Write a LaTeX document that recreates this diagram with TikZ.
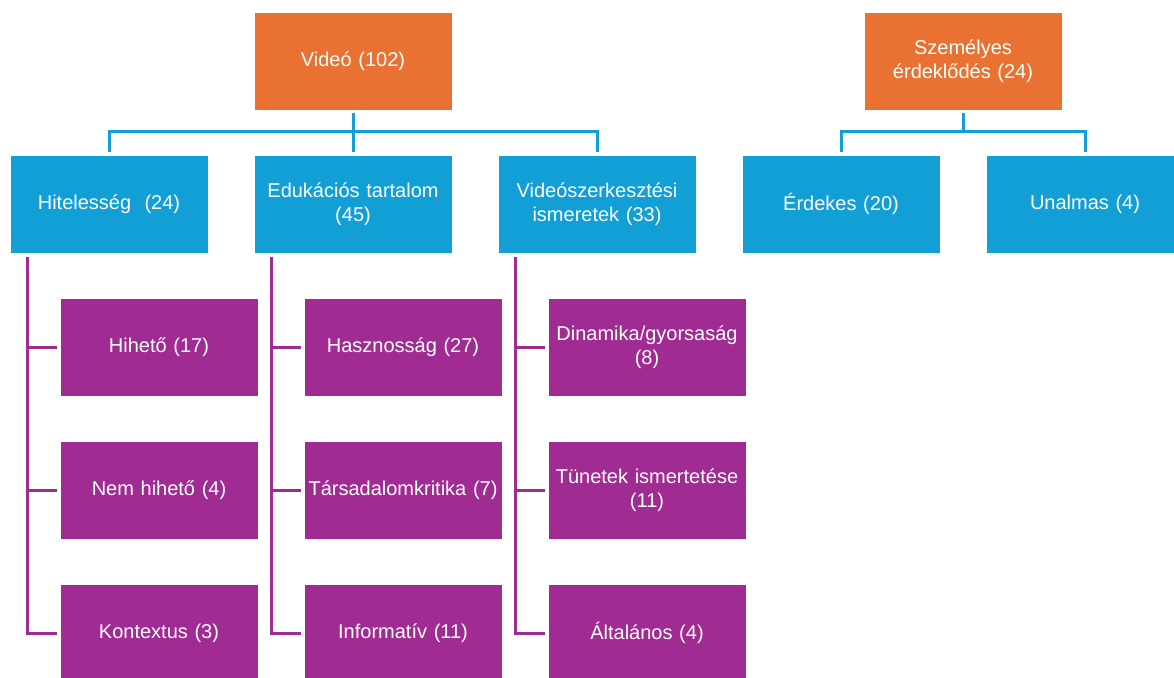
\documentclass[tikz,border=0pt]{standalone}
\usepackage{fontspec}
\setmainfont{Liberation Sans}
\usetikzlibrary{positioning}
\definecolor{ornge}{HTML}{E97132}
\definecolor{blu}{HTML}{119FD6}
\definecolor{purp}{HTML}{A02B93}

\begin{document}
\begin{tikzpicture}[x=1pt,y=1pt,node distance=143pt and 244pt,on grid,
	box/.style={draw=white,line width=0.8pt,minimum width=198pt,minimum height=98pt,
		text width=194pt,inner sep=2pt,align=center,text=white,font=\fontsize{20}{24}\selectfont},
	orangebox/.style={box,fill=ornge},
	bluebox/.style={box,fill=blu},
	purplebox/.style={box,fill=purp},
	bl/.style={draw=blu,line width=3pt,shorten <=3pt,shorten >=3pt},
	pl/.style={draw=purp,line width=3pt,shorten <=4pt,shorten >=3pt}]
	\useasboundingbox (0,0) rectangle (1174,-677);
	\node[bluebox](edu) at (353,-204) {Edukációs tartalom\\(45)};
	\node[orangebox](video)[above=of edu] {Videó (102)};
	\node[bluebox](hit)[left=of edu] {Hitelesség~ (24)};
	\node[bluebox](vsz)[right=of edu] {Videószerkesztési\\ismeretek (33)};
	\node[bluebox](erd)[right=of vsz] {Érdekes (20)};
	\node[bluebox](una)[right=of erd] {Unalmas (4)};
	\node[orangebox](szem)[above=of erd,xshift=122pt] {Személyes\\érdeklődés (24)};
	\node[purplebox](h1)[below=of hit,xshift=50pt] {Hihető (17)};
	\node[purplebox](h2)[below=of h1] {Nem hihető (4)};
	\node[purplebox](h3)[below=of h2] {Kontextus (3)};
	\node[purplebox](e1)[below=of edu,xshift=50pt] {Hasznosság (27)};
	\node[purplebox](e2)[below=of e1] {Társadalomkritika (7)};
	\node[purplebox](e3)[below=of e2] {Informatív (11)};
	\node[purplebox](v1)[below=of vsz,xshift=50pt] {Dinamika/gyorsaság\\(8)};
	\node[purplebox](v2)[below=of v1] {Tünetek ismertetése\\(11)};
	\node[purplebox](v3)[below=of v2] {Általános (4)};
	\foreach \c in {hit,edu,vsz}
		\draw[bl] (video.south) -- ++(0,-21) -| (\c.north);
	\foreach \c in {erd,una}
		\draw[bl] (szem.south) -- ++(0,-21) -| (\c.north);
	\foreach \p/\c in {hit/h1,hit/h2,hit/h3,edu/e1,edu/e2,edu/e3,vsz/v1,vsz/v2,vsz/v3}
		\draw[pl] ([xshift=18pt]\p.south west) |- (\c.west);
\end{tikzpicture}
\end{document}
